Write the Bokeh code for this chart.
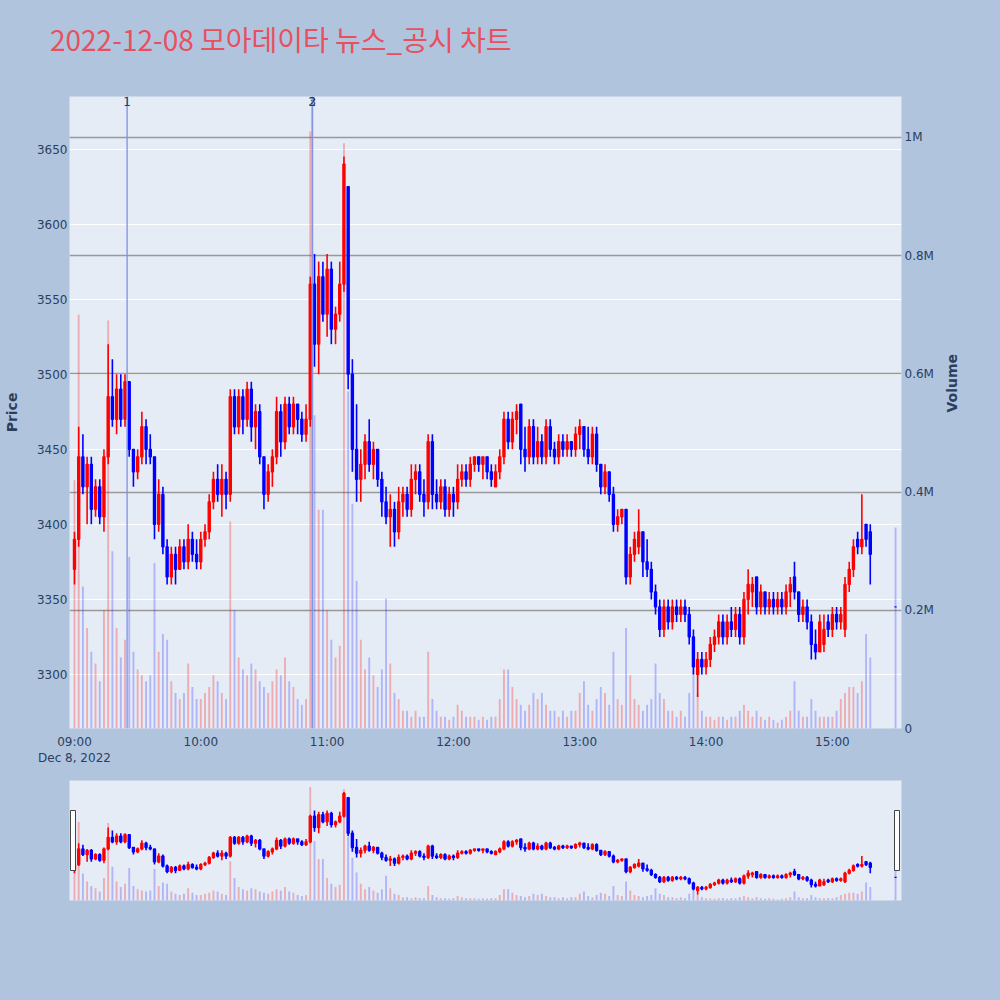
import math
import pandas as pd
from bokeh.plotting import figure
from bokeh.models import (ColumnDataSource, Range1d, LinearAxis, FixedTicker,
                          DatetimeTickFormatter, Span, Label, Grid, Div)
from bokeh.layouts import column
from bokeh.embed import file_html
from bokeh.resources import INLINE

# ---------------- data ----------------
title_text = "2022-12-08 모아데이타 뉴스_공시 차트"
start_time = "2022-12-08 09:00"
bar_minutes = 2

open_ = [3370, 3390, 3445, 3425, 3440, 3410, 3425, 3405, 3445, 3485,
         3470, 3490, 3470, 3495, 3450, 3435, 3445, 3465, 3450, 3445,
         3400, 3420, 3385, 3365, 3380, 3370, 3385, 3375, 3390, 3380,
         3375, 3390, 3395, 3415, 3430, 3420, 3430, 3420, 3485, 3465,
         3485, 3470, 3490, 3465, 3475, 3445, 3420, 3435, 3445, 3475,
         3455, 3480, 3465, 3480, 3470, 3460, 3470, 3560, 3520, 3565,
         3540, 3570, 3530, 3540, 3560, 3625, 3500, 3450, 3430, 3440,
         3455, 3440, 3450, 3430, 3415, 3405, 3410, 3395, 3415, 3420,
         3410, 3430, 3435, 3420, 3415, 3455, 3420, 3415, 3425, 3410,
         3420, 3415, 3430, 3435, 3430, 3440, 3445, 3440, 3445, 3435,
         3425, 3435, 3445, 3470, 3455, 3470, 3480, 3450, 3445, 3465,
         3445, 3455, 3445, 3465, 3450, 3445, 3455, 3450, 3455, 3450,
         3460, 3465, 3450, 3445, 3460, 3440, 3425, 3435, 3420, 3400,
         3405, 3410, 3365, 3380, 3385, 3395, 3375, 3370, 3355, 3345,
         3330, 3345, 3335, 3345, 3340, 3345, 3340, 3325, 3300, 3310,
         3305, 3310, 3320, 3325, 3335, 3325, 3335, 3330, 3340, 3325,
         3350, 3355, 3365, 3345, 3355, 3345, 3350, 3345, 3350, 3345,
         3355, 3365, 3355, 3340, 3345, 3335, 3320, 3315, 3320, 3335,
         3330, 3340, 3335, 3330, 3360, 3370, 3390, 3385, 3400, 3395]

high = [3395, 3465, 3460, 3445, 3445, 3430, 3430, 3450, 3520, 3510,
        3500, 3500, 3500, 3495, 3450, 3450, 3475, 3470, 3460, 3445,
        3430, 3425, 3390, 3385, 3385, 3390, 3390, 3400, 3395, 3390,
        3395, 3400, 3420, 3435, 3440, 3440, 3435, 3490, 3490, 3490,
        3490, 3495, 3495, 3480, 3480, 3445, 3440, 3450, 3485, 3480,
        3485, 3485, 3485, 3480, 3475, 3480, 3565, 3580, 3575, 3575,
        3580, 3575, 3545, 3575, 3645, 3625, 3510, 3480, 3450, 3460,
        3470, 3455, 3450, 3435, 3425, 3420, 3415, 3425, 3425, 3425,
        3440, 3440, 3440, 3430, 3460, 3460, 3430, 3430, 3430, 3425,
        3425, 3440, 3440, 3440, 3445, 3445, 3445, 3445, 3445, 3440,
        3440, 3450, 3475, 3475, 3475, 3480, 3480, 3465, 3470, 3470,
        3465, 3460, 3470, 3470, 3455, 3460, 3460, 3460, 3455, 3465,
        3470, 3465, 3465, 3465, 3465, 3440, 3440, 3435, 3425, 3410,
        3410, 3410, 3385, 3395, 3410, 3395, 3390, 3375, 3360, 3350,
        3350, 3350, 3350, 3350, 3350, 3350, 3345, 3330, 3315, 3315,
        3315, 3325, 3330, 3340, 3340, 3340, 3345, 3345, 3345, 3355,
        3370, 3365, 3365, 3360, 3355, 3355, 3355, 3355, 3355, 3360,
        3365, 3375, 3355, 3350, 3350, 3340, 3330, 3340, 3340, 3340,
        3345, 3345, 3345, 3365, 3375, 3390, 3395, 3420, 3400, 3400]

low = [3360, 3385, 3420, 3400, 3400, 3405, 3400, 3395, 3440, 3465,
       3460, 3465, 3465, 3445, 3425, 3430, 3440, 3440, 3440, 3390,
       3395, 3380, 3360, 3360, 3360, 3370, 3370, 3370, 3375, 3370,
       3370, 3385, 3390, 3410, 3415, 3405, 3410, 3415, 3460, 3460,
       3460, 3465, 3455, 3450, 3440, 3410, 3415, 3425, 3440, 3445,
       3450, 3460, 3460, 3460, 3455, 3455, 3465, 3505, 3500, 3535,
       3525, 3520, 3520, 3535, 3555, 3490, 3435, 3415, 3415, 3430,
       3435, 3430, 3425, 3405, 3400, 3385, 3385, 3390, 3405, 3405,
       3405, 3420, 3415, 3405, 3410, 3410, 3410, 3410, 3405, 3405,
       3405, 3410, 3425, 3425, 3425, 3435, 3435, 3430, 3430, 3425,
       3425, 3430, 3440, 3450, 3450, 3460, 3440, 3435, 3440, 3440,
       3440, 3440, 3440, 3445, 3440, 3440, 3445, 3445, 3445, 3445,
       3450, 3445, 3440, 3440, 3435, 3420, 3420, 3415, 3395, 3395,
       3400, 3360, 3360, 3375, 3380, 3365, 3365, 3350, 3340, 3325,
       3325, 3330, 3330, 3335, 3335, 3335, 3320, 3300, 3285, 3300,
       3300, 3305, 3315, 3320, 3320, 3320, 3325, 3325, 3320, 3320,
       3340, 3345, 3340, 3340, 3340, 3340, 3340, 3340, 3340, 3340,
       3345, 3350, 3335, 3335, 3330, 3310, 3310, 3315, 3315, 3325,
       3325, 3330, 3330, 3325, 3355, 3365, 3380, 3380, 3385, 3360]

close = [3390, 3445, 3425, 3440, 3410, 3425, 3405, 3445, 3485, 3470,
         3490, 3470, 3495, 3450, 3435, 3445, 3465, 3450, 3445, 3400,
         3420, 3385, 3365, 3380, 3370, 3385, 3375, 3390, 3380, 3375,
         3390, 3395, 3415, 3430, 3420, 3430, 3420, 3485, 3465, 3485,
         3470, 3490, 3465, 3475, 3445, 3420, 3435, 3445, 3475, 3455,
         3480, 3465, 3480, 3470, 3460, 3470, 3560, 3520, 3565, 3540,
         3570, 3530, 3540, 3560, 3640, 3500, 3450, 3430, 3440, 3455,
         3440, 3450, 3430, 3415, 3405, 3410, 3395, 3415, 3420, 3410,
         3430, 3435, 3420, 3415, 3455, 3420, 3415, 3425, 3410, 3420,
         3415, 3430, 3435, 3430, 3440, 3445, 3440, 3445, 3435, 3430,
         3435, 3445, 3470, 3455, 3470, 3475, 3450, 3445, 3465, 3445,
         3455, 3445, 3465, 3450, 3445, 3455, 3450, 3455, 3450, 3460,
         3465, 3450, 3445, 3460, 3440, 3425, 3435, 3420, 3400, 3405,
         3410, 3365, 3380, 3390, 3395, 3375, 3370, 3355, 3345, 3330,
         3345, 3335, 3345, 3340, 3345, 3340, 3325, 3305, 3310, 3305,
         3310, 3320, 3325, 3335, 3325, 3335, 3330, 3340, 3325, 3350,
         3360, 3360, 3345, 3355, 3345, 3350, 3345, 3350, 3345, 3355,
         3360, 3355, 3340, 3345, 3335, 3320, 3315, 3335, 3330, 3330,
         3340, 3335, 3340, 3360, 3370, 3385, 3385, 3390, 3390, 3380]

volume = [420000, 700000, 240000, 170000, 130000, 110000, 80000, 200000, 690000, 300000,
          170000, 120000, 150000, 290000, 130000, 100000, 90000, 80000, 90000, 280000,
          130000, 160000, 150000, 80000, 60000, 50000, 60000, 110000, 70000, 50000,
          50000, 60000, 70000, 90000, 80000, 60000, 50000, 350000, 200000, 120000,
          100000, 90000, 110000, 100000, 80000, 70000, 60000, 80000, 100000, 90000,
          120000, 80000, 70000, 50000, 40000, 50000, 1010000, 530000, 370000, 370000,
          200000, 150000, 120000, 140000, 990000, 570000, 380000, 250000, 150000, 100000,
          120000, 90000, 70000, 100000, 220000, 110000, 60000, 50000, 30000, 30000,
          20000, 30000, 20000, 20000, 130000, 50000, 30000, 20000, 20000, 15000,
          20000, 40000, 30000, 20000, 20000, 20000, 15000, 20000, 15000, 20000,
          20000, 50000, 100000, 100000, 70000, 50000, 40000, 30000, 40000, 60000,
          50000, 60000, 40000, 30000, 30000, 20000, 30000, 20000, 30000, 30000,
          60000, 80000, 40000, 30000, 50000, 70000, 60000, 40000, 130000, 50000,
          40000, 170000, 90000, 50000, 40000, 30000, 40000, 50000, 110000, 60000,
          50000, 30000, 30000, 20000, 30000, 20000, 60000, 100000, 60000, 30000,
          20000, 20000, 15000, 20000, 20000, 15000, 20000, 20000, 30000, 40000,
          30000, 20000, 30000, 20000, 15000, 20000, 15000, 10000, 15000, 20000,
          30000, 80000, 30000, 20000, 20000, 50000, 30000, 20000, 20000, 20000,
          20000, 30000, 50000, 60000, 70000, 70000, 60000, 80000, 160000, 120000]

# closing auction (15:30)
auction_time = "2022-12-08 15:30"
auction_open, auction_high, auction_low, auction_close = 3345, 3345, 3345, 3345
auction_volume = 340000

# news / disclosure events
event_labels = ["1", "2", "3"]
event_times = ["2022-12-08 09:25", "2022-12-08 10:53", "2022-12-08 10:53"]

price_ticks = [3300, 3350, 3400, 3450, 3500, 3550, 3600, 3650]
volume_ticks = [0, 200000, 400000, 600000, 800000, 1000000]
volume_tick_labels = ["0", "0.2M", "0.4M", "0.6M", "0.8M", "1M"]
hour_ticks = ["09:00", "10:00", "11:00", "12:00", "13:00", "14:00", "15:00"]

# axis extents
x_start = "2022-12-08 08:57:38"
x_end = "2022-12-08 15:32:50"
price_min, price_max = 3264, 3685
volume_max = 1069000

# ---------------- build ----------------
def ms(t):
    return pd.Timestamp(t).value / 1e6

times = list(pd.date_range(start_time, periods=len(close), freq=f"{bar_minutes}min"))
times.append(pd.Timestamp(auction_time))
O = open_ + [auction_open]
H = high + [auction_high]
L = low + [auction_low]
C = close + [auction_close]
V = volume + [auction_volume]

UP, DOWN = "#ff0000", "#0000ff"
cols = [UP if c > o else DOWN for o, c in zip(O, C)]
vcols = ["rgba(255,0,0,0.27)" if c > o else "rgba(0,0,255,0.23)" for o, c in zip(O, C)]

src = ColumnDataSource(dict(t=times, o=O, h=H, l=L, c=C, v=V, color=cols, vcolor=vcols,
                            top=[max(o, c) for o, c in zip(O, C)],
                            bottom=[min(o, c) for o, c in zip(O, C)]))

BODY_W = 1.0 * 60000
VOL_W = 0.9 * 60000
TXT = "#2a3f5f"
PAGE_BG = "#B0C4DE"
PLOT_BG = "#E5ECF6"
TITLE_COLOR = "#E8505F"
BORDER_L, BORDER_R = 68, 99


def draw(fig):
    fig.vbar(x="t", top="v", bottom=0, width=VOL_W, fill_color="vcolor",
             line_color=None, y_range_name="vol", source=src)
    fig.segment(x0="t", y0="h", x1="t", y1="l", line_color="color", line_width=1.6, source=src)
    fig.vbar(x="t", top="top", bottom="bottom", width=BODY_W, fill_color="color",
             line_color="color", line_width=1.3, source=src)


# ---------------- title ----------------
head = Div(text=(f'<div style="position:relative; left:50px; top:23px; '
                 f'font-family:\'Noto Sans CJK KR\', sans-serif; font-size:28px; '
                 f'line-height:32px; color:{TITLE_COLOR}; white-space:nowrap;">{title_text}</div>'),
           width=1000, height=60, margin=(0, 0, 0, 0),
           styles={"background-color": PAGE_BG})

# ---------------- main chart ----------------
p = figure(width=1000, height=710, x_axis_type="datetime", output_backend="svg",
           toolbar_location=None,
           x_range=Range1d(ms(x_start), ms(x_end)), y_range=Range1d(price_min, price_max),
           min_border_left=BORDER_L, min_border_right=BORDER_R,
           min_border_top=36, min_border_bottom=42)
p.extra_y_ranges = {"vol": Range1d(0, volume_max)}
p.background_fill_color = PLOT_BG
p.border_fill_color = PAGE_BG
p.outline_line_color = None

p.xgrid.grid_line_color = None
p.ygrid.grid_line_color = "white"
p.ygrid.grid_line_width = 1
p.ygrid.ticker = FixedTicker(ticks=price_ticks)

vgrid = Grid(dimension=1, y_range_name="vol", ticker=FixedTicker(ticks=volume_ticks[1:]),
             grid_line_color="#999999", grid_line_width=1.5)
p.add_layout(vgrid)

draw(p)

for lab, t in reversed(list(zip(event_labels, event_times))):
    p.add_layout(Span(location=ms(t), dimension="height", line_color="#7f95e3",
                      line_width=1.5, line_alpha=0.9))
    p.add_layout(Label(x=ms(t), y=price_max, text=lab, text_align="center",
                       text_baseline="top", text_font_size="12px",
                       text_font="DejaVu Sans", text_color=TXT))

# axes
p.yaxis.ticker = FixedTicker(ticks=price_ticks)
p.yaxis.axis_label = "Price"
p.yaxis.major_label_standoff = 2
p.yaxis.axis_label_standoff = 14

ax_r = LinearAxis(y_range_name="vol", ticker=FixedTicker(ticks=volume_ticks),
                  axis_label="Volume")
ax_r.major_label_overrides = {v: s for v, s in zip(volume_ticks, volume_tick_labels)}
ax_r.major_label_standoff = 3
ax_r.axis_label_standoff = 15
p.add_layout(ax_r, "right")
try:
    ax_r.axis_label_orientation = math.pi / 2
except Exception:
    pass

p.xaxis.ticker = FixedTicker(ticks=[ms(f"2022-12-08 {h}") for h in hour_ticks])
p.xaxis.formatter = DatetimeTickFormatter(hours="%H:%M", hourmin="%H:%M", minutes="%H:%M",
                                          context="%b %-d, %Y", context_which="start")
p.xaxis.major_label_standoff = 6

for ax in p.axis:
    ax.axis_line_color = None
    ax.major_tick_line_color = None
    ax.minor_tick_line_color = None
    ax.major_tick_out = 0
    ax.major_tick_in = 0
    ax.minor_tick_out = 0
    ax.minor_tick_in = 0
    ax.major_label_text_font = "DejaVu Sans"
    ax.major_label_text_font_size = "12px"
    ax.major_label_text_color = TXT
    ax.axis_label_text_font = "DejaVu Sans"
    ax.axis_label_text_font_size = "14px"
    ax.axis_label_text_font_style = "bold"
    ax.axis_label_text_color = TXT

# ---------------- range slider ----------------
s = figure(width=1000, height=140, x_axis_type="datetime", output_backend="svg",
           toolbar_location=None, x_axis_location=None, y_axis_location=None,
           x_range=Range1d(ms(x_start), ms(x_end)), y_range=Range1d(price_min, price_max),
           min_border_left=BORDER_L, min_border_right=BORDER_R,
           min_border_top=10, min_border_bottom=10)
s.extra_y_ranges = {"vol": Range1d(0, volume_max)}
s.background_fill_color = PLOT_BG
s.border_fill_color = PAGE_BG
s.outline_line_color = None
s.xgrid.grid_line_color = None
s.ygrid.grid_line_color = None
draw(s)

px = (ms(x_end) - ms(x_start)) / (1000 - BORDER_L - BORDER_R)
mid = (price_min + price_max) / 2
s.rect(x=[ms(x_start) + 3.5 * px, ms(x_end) - 4.5 * px], y=[mid, mid], width=5, height=60,
       width_units="screen", height_units="screen", fill_color="white",
       line_color="#444444", line_width=1)

layout = column(head, p, s, spacing=0)
layout.styles = {"background-color": PAGE_BG}

html = file_html(layout, INLINE, title="chart")
html = html.replace("</head>", "<style>body{background-color:#B0C4DE;}</style></head>", 1)
open("out.html", "w").write(html)
